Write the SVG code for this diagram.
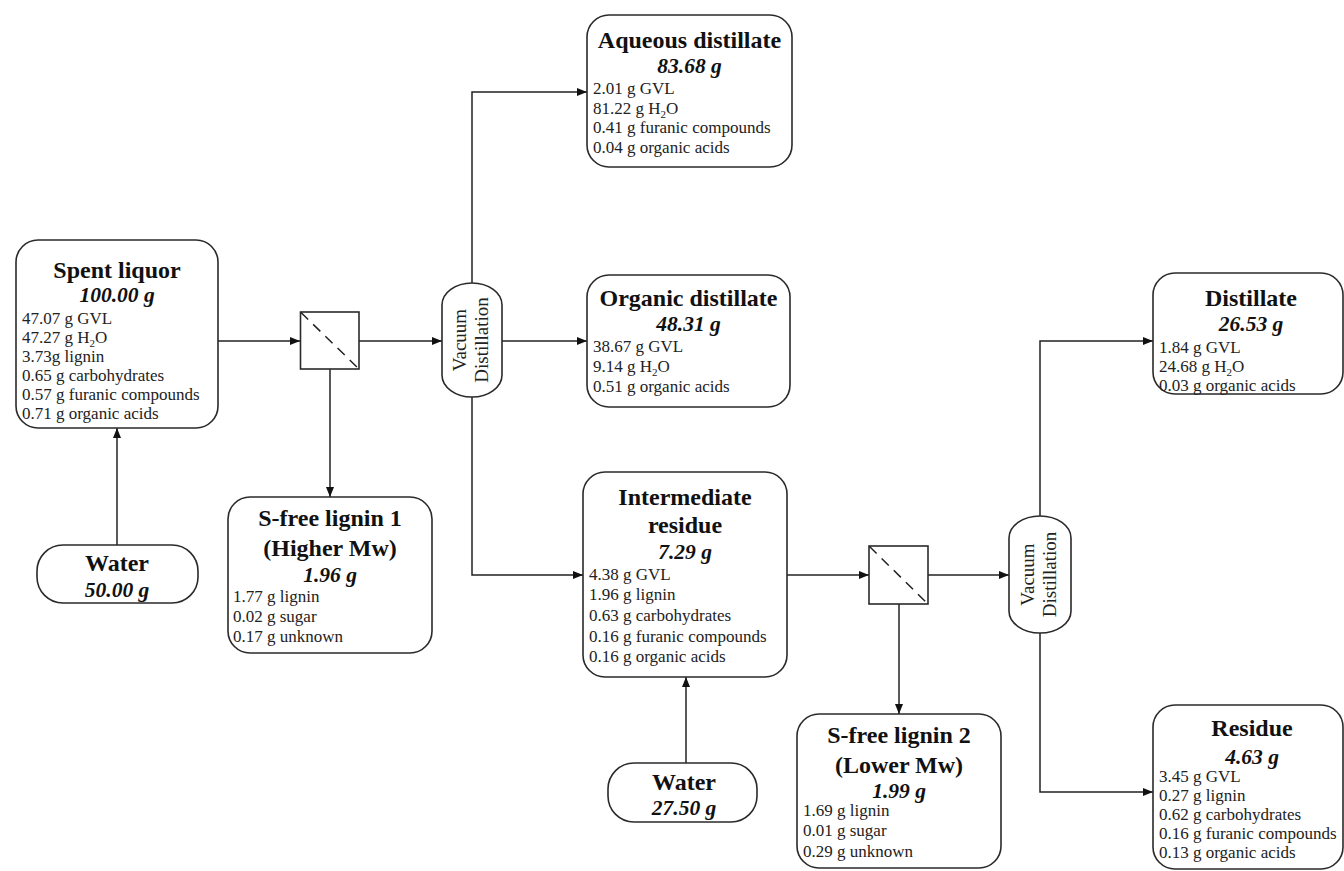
<svg xmlns="http://www.w3.org/2000/svg" width="1344" height="871" viewBox="0 0 1344 871">
<style>
.box{fill:#fff;stroke:#2a2a2a;stroke-width:1.6}
.t{font-family:"Liberation Serif","Times New Roman",serif;font-weight:bold;font-size:24px;fill:#111;text-anchor:middle}
.m{font-family:"Liberation Serif","Times New Roman",serif;font-weight:bold;font-style:italic;font-size:21.5px;fill:#111;text-anchor:middle}
.i{font-family:"Liberation Serif","Times New Roman",serif;font-size:17px;fill:#222}
.v{font-family:"Liberation Serif","Times New Roman",serif;font-size:19px;fill:#222;text-anchor:middle}
.c{fill:none;stroke:#222;stroke-width:1.5}
.sub{font-size:11px}
</style>
<defs>
<marker id="ar" viewBox="0 0 10 10" refX="10" refY="5" markerWidth="10" markerHeight="10" markerUnits="userSpaceOnUse" orient="auto">
<path d="M0,1 L10,5 L0,9 Z" fill="#111"/>
</marker>
</defs>

<g id="connectors">
<path class="c" d="M218,341 H300" marker-end="url(#ar)"/>
<path class="c" d="M359,341 H442" marker-end="url(#ar)"/>
<path class="c" d="M330,369 V497" marker-end="url(#ar)"/>
<path class="c" d="M117,545 V428" marker-end="url(#ar)"/>
<path class="c" d="M472,283 V92 H587" marker-end="url(#ar)"/>
<path class="c" d="M502,341 H587" marker-end="url(#ar)"/>
<path class="c" d="M472,397 V575 H583" marker-end="url(#ar)"/>
<path class="c" d="M787,575 H869" marker-end="url(#ar)"/>
<path class="c" d="M928,575 H1009" marker-end="url(#ar)"/>
<path class="c" d="M899,604 V714" marker-end="url(#ar)"/>
<path class="c" d="M686,763 V677" marker-end="url(#ar)"/>
<path class="c" d="M1040,516 V341 H1153" marker-end="url(#ar)"/>
<path class="c" d="M1040,633 V792 H1153" marker-end="url(#ar)"/>
</g>

<g id="spent-liquor">
<rect class="box" x="16" y="240" width="202" height="188" rx="22"/>
<text class="t" x="117" y="278">Spent liquor</text>
<text class="m" x="117" y="302">100.00 g</text>
<text class="i" x="22" y="324">47.07 g GVL</text>
<text class="i" x="22" y="343">47.27 g H<tspan class="sub" dy="4">2</tspan><tspan dy="-4">O</tspan></text>
<text class="i" x="22" y="362">3.73g lignin</text>
<text class="i" x="22" y="381">0.65 g carbohydrates</text>
<text class="i" x="22" y="400">0.57 g furanic compounds</text>
<text class="i" x="22" y="419">0.71 g organic acids</text>
</g>

<g id="water-1">
<rect class="box" x="37" y="545" width="161" height="58" rx="26"/>
<text class="t" x="117" y="571">Water</text>
<text class="m" x="117" y="597">50.00 g</text>
</g>

<g id="filter-1">
<rect class="box" x="300.5" y="312" width="58.5" height="57"/>
<line x1="301" y1="312.5" x2="358.5" y2="368.5" stroke="#222" stroke-width="1.5" stroke-dasharray="10,7"/>
</g>

<g id="s-free-lignin-1">
<rect class="box" x="228" y="497" width="204" height="156" rx="22"/>
<text class="t" x="330" y="526">S-free lignin 1</text>
<text class="t" x="330" y="556">(Higher Mw)</text>
<text class="m" x="330" y="582">1.96 g</text>
<text class="i" x="233" y="602">1.77 g lignin</text>
<text class="i" x="233" y="622">0.02 g sugar</text>
<text class="i" x="233" y="642">0.17 g unknown</text>
</g>

<g id="vacuum-distillation-1">
<rect class="box" x="442" y="283" width="60" height="114" rx="30" ry="22"/>
<text class="v" transform="translate(472,340) rotate(-90)"><tspan x="0" y="-6">Vacuum</tspan><tspan x="0" y="16">Distillation</tspan></text>
</g>

<g id="aqueous-distillate">
<rect class="box" x="587" y="15" width="205" height="152" rx="22"/>
<text class="t" x="689.5" y="48">Aqueous distillate</text>
<text class="m" x="689.5" y="73">83.68 g</text>
<text class="i" x="593" y="94">2.01 g GVL</text>
<text class="i" x="593" y="114">81.22 g H<tspan class="sub" dy="4">2</tspan><tspan dy="-4">O</tspan></text>
<text class="i" x="593" y="133">0.41 g furanic compounds</text>
<text class="i" x="593" y="153">0.04 g organic acids</text>
</g>

<g id="organic-distillate">
<rect class="box" x="587" y="275" width="203" height="132" rx="22"/>
<text class="t" x="688.5" y="306">Organic distillate</text>
<text class="m" x="688.5" y="331">48.31 g</text>
<text class="i" x="593" y="352">38.67 g GVL</text>
<text class="i" x="593" y="372">9.14 g H<tspan class="sub" dy="4">2</tspan><tspan dy="-4">O</tspan></text>
<text class="i" x="593" y="392">0.51 g organic acids</text>
</g>

<g id="intermediate-residue">
<rect class="box" x="583" y="472" width="204" height="205" rx="22"/>
<text class="t" x="685" y="505">Intermediate</text>
<text class="t" x="685" y="533">residue</text>
<text class="m" x="685" y="559">7.29 g</text>
<text class="i" x="589" y="580">4.38 g GVL</text>
<text class="i" x="589" y="600">1.96 g lignin</text>
<text class="i" x="589" y="621">0.63 g carbohydrates</text>
<text class="i" x="589" y="642">0.16 g furanic compounds</text>
<text class="i" x="589" y="662">0.16 g organic acids</text>
</g>

<g id="water-2">
<rect class="box" x="608" y="763" width="149" height="59" rx="26"/>
<text class="t" x="684" y="790">Water</text>
<text class="m" x="684" y="815">27.50 g</text>
</g>

<g id="filter-2">
<rect class="box" x="869" y="546" width="59" height="58"/>
<line x1="869.5" y1="546.5" x2="927.5" y2="603.5" stroke="#222" stroke-width="1.5" stroke-dasharray="10,7"/>
</g>

<g id="s-free-lignin-2">
<rect class="box" x="797" y="714" width="204" height="154" rx="22"/>
<text class="t" x="899" y="743">S-free lignin 2</text>
<text class="t" x="899" y="773">(Lower Mw)</text>
<text class="m" x="899" y="798">1.99 g</text>
<text class="i" x="803" y="816">1.69 g lignin</text>
<text class="i" x="803" y="836">0.01 g sugar</text>
<text class="i" x="803" y="857">0.29 g unknown</text>
</g>

<g id="vacuum-distillation-2">
<rect class="box" x="1009" y="516" width="62" height="117" rx="31" ry="22"/>
<text class="v" transform="translate(1040,574.5) rotate(-90)"><tspan x="0" y="-6">Vacuum</tspan><tspan x="0" y="16">Distillation</tspan></text>
</g>

<g id="distillate">
<rect class="box" x="1153" y="273" width="190" height="121" rx="22"/>
<text class="t" x="1251" y="306">Distillate</text>
<text class="m" x="1251" y="331">26.53 g</text>
<text class="i" x="1159" y="353">1.84 g GVL</text>
<text class="i" x="1159" y="372">24.68 g H<tspan class="sub" dy="4">2</tspan><tspan dy="-4">O</tspan></text>
<text class="i" x="1159" y="391">0.03 g organic acids</text>
</g>

<g id="residue">
<rect class="box" x="1153" y="705" width="190" height="164" rx="22"/>
<text class="t" x="1252" y="736">Residue</text>
<text class="m" x="1252" y="764">4.63 g</text>
<text class="i" x="1159" y="782">3.45 g GVL</text>
<text class="i" x="1159" y="801">0.27 g lignin</text>
<text class="i" x="1159" y="820">0.62 g carbohydrates</text>
<text class="i" x="1159" y="839">0.16 g furanic compounds</text>
<text class="i" x="1159" y="858">0.13 g organic acids</text>
</g>
</svg>
